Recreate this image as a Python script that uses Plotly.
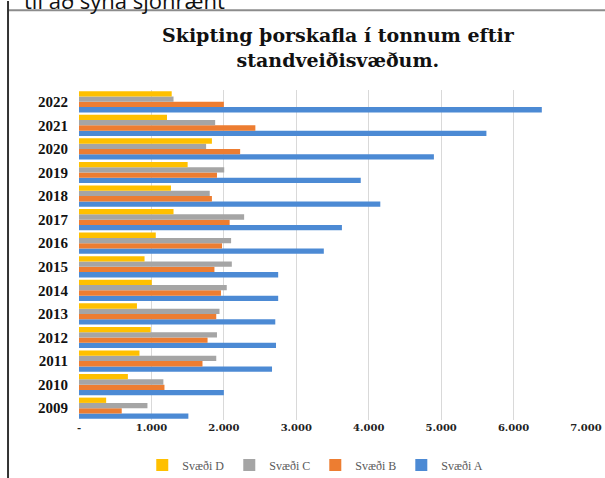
import plotly.graph_objects as go

years = [str(y) for y in range(2009, 2023)]

# tonn per svæði, lesið af myndinni (2009 -> 2022)
svaedi_a = [1510, 2000, 2665, 2720, 2710, 2750, 2750, 3380, 3630, 4160, 3890, 4900, 5625, 6390]
svaedi_b = [590, 1180, 1705, 1775, 1895, 1960, 1870, 1975, 2080, 1835, 1905, 2225, 2435, 2000]
svaedi_c = [945, 1165, 1895, 1905, 1940, 2040, 2110, 2100, 2280, 1805, 2005, 1755, 1880, 1305]
svaedi_d = [375, 675, 835, 990, 800, 1005, 905, 1060, 1305, 1270, 1500, 1835, 1215, 1280]

xticks = [0, 1000, 2000, 3000, 4000, 5000, 6000, 7000]
xticklabels = ["-", "1.000", "2.000", "3.000", "4.000", "5.000", "6.000", "7.000"]

series = [
    ("Svæði A", svaedi_a, "#4c8ad4"),
    ("Svæði B", svaedi_b, "#ed7d31"),
    ("Svæði C", svaedi_c, "#a5a5a5"),
    ("Svæði D", svaedi_d, "#ffc000"),
]

fig = go.Figure()
for name, vals, col in series:
    fig.add_trace(go.Bar(y=years, x=vals, name=name, orientation="h",
                         marker=dict(color=col, line_width=0)))

fig.update_layout(
    width=605, height=478,
    margin=dict(l=79, r=19, t=90, b=58, autoexpand=False),
    paper_bgcolor="white", plot_bgcolor="white",
    barmode="group", bargap=0.1, bargroupgap=0,
    showlegend=True,
    legend=dict(orientation="h", traceorder="reversed",
                x=0.466, xanchor="center", y=-0.136, yanchor="middle",
                font=dict(family="Liberation Serif", size=12, color="#595959"),
                itemwidth=30),
    xaxis=dict(range=[0, 7000], tickvals=xticks, ticktext=xticklabels,
               showgrid=True, gridcolor="#d9d9d9", gridwidth=1,
               zeroline=False, showline=False, ticks="", automargin=False,
               tickfont=dict(family="DejaVu Serif", size=10, color="#222",
                             weight="bold"),
               fixedrange=True),
    yaxis=dict(type="category", showgrid=False, zeroline=False,
               showline=False, ticks="", ticklabelstandoff=10, automargin=False,
               tickfont=dict(family="Liberation Serif", size=15, color="#111",
                             weight="bold"),
               fixedrange=True),
)

fig.add_annotation(
    text="Skipting þorskafla í tonnum eftir<br>standveiðisvæðum.",
    xref="paper", yref="paper", x=0.512, y=1.13,
    xanchor="center", yanchor="middle", showarrow=False,
    font=dict(family="DejaVu Serif", size=19, color="#111", weight="bold"),
)

# afskorinn texti úr skjalinu fyrir ofan
fig.add_annotation(
    text="til að sýna sjónrænt",
    xref="paper", yref="paper", x=-0.112, y=1.274,
    xanchor="left", yanchor="middle", showarrow=False,
    font=dict(family="Open Sans", size=22, color="#111"),
)

fig.add_shape(type="line", xref="paper", yref="paper",
              x0=-0.140, x1=1.04, y0=1.242, y1=1.242,
              line=dict(color="#8c8c8c", width=2))
fig.add_shape(type="line", xref="paper", yref="paper",
              x0=-0.140, x1=-0.140, y0=1.27, y1=-0.2,
              line=dict(color="#333", width=2))

fig.write_html("out.html", config={"displayModeBar": False},
               post_script="document.body.style.margin='0';")
